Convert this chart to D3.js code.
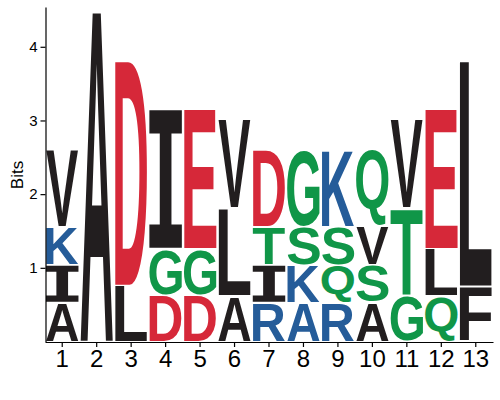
<!DOCTYPE html>
<html>
<head>
<meta charset="utf-8">
<script src="https://cdn.jsdelivr.net/npm/d3@7"></script>
<style>
  body { margin: 0; background: #fff; }
  svg { display: block; }
</style>
</head>
<body>
<svg id="Logo"></svg>
<script>
// positions along the motif
let positions = [1, 2, 3, 4, 5, 6, 7, 8, 9, 10, 11, 12, 13];

// letters per position, listed from bottom to top of the stack
let letters = [
  ["A", "I", "K", "V"],
  ["A"],
  ["L", "D"],
  ["D", "G", "I"],
  ["D", "G", "E"],
  ["A", "L", "V"],
  ["R", "I", "T", "D"],
  ["A", "K", "S", "G"],
  ["R", "Q", "S", "K"],
  ["A", "S", "V", "Q"],
  ["G", "T", "V"],
  ["Q", "L", "E"],
  ["F", "L"]
];

// height of each letter in bits (same order as letters)
let bits = [
  [0.53, 0.51, 0.52, 1.04],
  [4.54],
  [0.76, 3.05],
  [0.63, 0.63, 1.89],
  [0.63, 0.63, 1.89],
  [0.62, 1.19, 1.20],
  [0.53, 0.51, 0.52, 1.04],
  [0.53, 0.51, 0.52, 1.04],
  [0.53, 0.51, 0.52, 1.04],
  [0.53, 0.51, 0.52, 1.04],
  [0.62, 1.19, 1.20],
  [0.62, 0.64, 1.89],
  [0.75, 3.06]
];

// colour group of each letter (k black, r red, g green, b blue)
let groups = [
  ["k", "k", "b", "k"],
  ["k"],
  ["k", "r"],
  ["r", "g", "k"],
  ["r", "g", "r"],
  ["k", "k", "k"],
  ["b", "k", "g", "r"],
  ["b", "b", "g", "g"],
  ["b", "g", "g", "b"],
  ["k", "g", "k", "g"],
  ["g", "g", "k"],
  ["g", "k", "r"],
  ["k", "k"]
];

let yTicks = [1, 2, 3, 4];

let palette = {k: "#221E1F", r: "#D62839", g: "#109648", b: "#255C99"};
let letterFont = "'Liberation Sans', Arial, Helvetica, sans-serif";

function getConfig() {
  let width = 500;
  let height = 400;
  let container = d3.select("#Logo")
    .attr("width", width)
    .attr("height", height);
  let x = d3.scaleBand()
    .domain(positions)
    .range([45, 493])
    .padding(0);
  let y = d3.scaleLinear()
    .domain([0, 4.54])
    .range([341.5, 7]);
  return {width, height, container, x, y};
}

// measure the ink box of a glyph so it can be stretched to fill its cell
function glyphBox(ctx, ch) {
  let m = ctx.measureText(ch);
  return {
    left: m.actualBoundingBoxLeft,
    right: m.actualBoundingBoxRight,
    ascent: m.actualBoundingBoxAscent,
    descent: m.actualBoundingBoxDescent
  };
}

function buildStacks() {
  let stacks = [];
  positions.forEach((p, i) => {
    let base = 0;
    letters[i].forEach((ch, j) => {
      stacks.push({pos: p, ch: ch, y0: base, y1: base + bits[i][j], color: palette[groups[i][j]]});
      base += bits[i][j];
    });
  });
  return stacks;
}

// cell box of a stacked letter in pixels
function cellBox(config, d) {
  let {x, y} = config;
  let inset = 1;
  let vgap = 0.8;
  return {
    x0: x(d.pos) + inset,
    w: x.bandwidth() - 2 * inset,
    top: y(d.y1) + vgap,
    h: y(d.y0) - y(d.y1) - 2 * vgap
  };
}

// the logo "I" has slab serifs, which the sans font lacks
function serifI(c) {
  let bar = 0.17 * c.h;
  let s0 = c.x0 + 0.32 * c.w, s1 = c.x0 + 0.68 * c.w;
  let x1 = c.x0 + c.w, y1 = c.top + c.h;
  return `M${c.x0},${c.top}H${x1}V${c.top + bar}H${s1}V${y1 - bar}H${x1}V${y1}` +
    `H${c.x0}V${y1 - bar}H${s0}V${c.top + bar}H${c.x0}Z`;
}

function drawLetters(config, stacks) {
  let {container} = config;
  let ctx = document.createElement("canvas").getContext("2d");
  ctx.font = "bold 100px " + letterFont;
  let g = container.append("g").attr("class", "letters");

  g.selectAll("path").data(stacks.filter(d => d.ch === "I"))
    .enter().append("path")
    .attr("d", d => serifI(cellBox(config, d)))
    .attr("fill", d => d.color);

  g.selectAll("text").data(stacks.filter(d => d.ch !== "I"))
    .enter().append("text")
    .text(d => d.ch)
    .attr("font-family", letterFont)
    .attr("font-weight", "bold")
    .attr("font-size", 100)
    .attr("fill", d => d.color)
    .attr("transform", d => {
      let b = glyphBox(ctx, d.ch);
      let c = cellBox(config, d);
      let sx = c.w / (b.left + b.right);
      let sy = c.h / (b.ascent + b.descent);
      return `translate(${c.x0},${c.top}) scale(${sx},${sy}) translate(${b.left},${b.ascent})`;
    });
}

function drawAxes(config) {
  let {container, x, y} = config;

  let yAxis = container.append("g")
    .attr("transform", "translate(45.5,0)")
    .call(d3.axisLeft(y).tickValues(yTicks).tickFormat(d3.format("d"))
      .tickSize(5).tickSizeOuter(0).tickPadding(3));
  yAxis.selectAll("text")
    .attr("font-family", "'Liberation Sans', Arial, sans-serif")
    .attr("font-size", 15)
    .attr("fill", "#000");

  let xAxis = container.append("g")
    .attr("transform", "translate(0,342)")
    .call(d3.axisBottom(x).tickSize(5).tickSizeOuter(0).tickPadding(3));
  xAxis.selectAll("text")
    .attr("font-family", "'Liberation Sans', Arial, sans-serif")
    .attr("font-size", 24)
    .attr("fill", "#000");

  container.selectAll(".domain, .tick line")
    .attr("stroke", "#000")
    .attr("stroke-width", 1.2);

  container.append("text")
    .attr("transform", "translate(23,175) rotate(-90)")
    .attr("text-anchor", "middle")
    .attr("font-family", "'Liberation Sans', Arial, sans-serif")
    .attr("font-size", 17)
    .attr("fill", "#000")
    .text("Bits");
}

function showLogo() {
  let config = getConfig();
  drawLetters(config, buildStacks());
  drawAxes(config);
}

document.fonts.load("bold 100px 'Liberation Sans'").then(showLogo, showLogo);
</script>
</body>
</html>
